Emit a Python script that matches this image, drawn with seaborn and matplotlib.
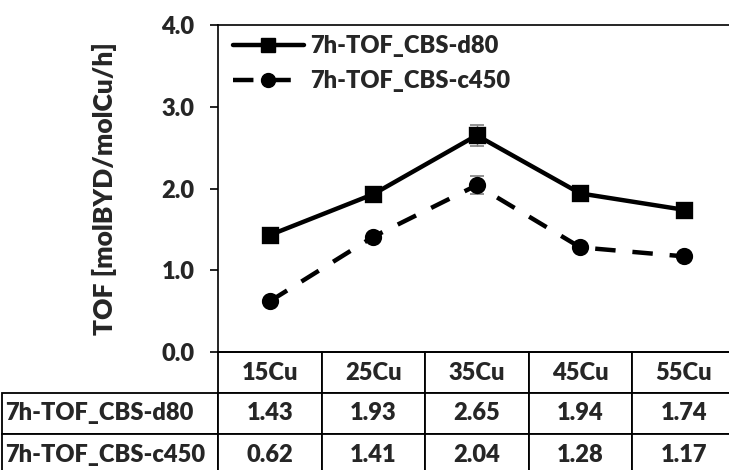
import matplotlib
matplotlib.use('Agg')
import matplotlib.pyplot as plt
from matplotlib.lines import Line2D
from matplotlib.table import Table
import seaborn as sns
import pandas as pd

## data
categories=["15Cu","25Cu","35Cu","45Cu","55Cu"]
series_names=["7h-TOF_CBS-d80","7h-TOF_CBS-c450"]
tof_d80=[1.43,1.93,2.65,1.94,1.74]
tof_c450=[0.62,1.41,2.04,1.28,1.17]
err_d80=[0,0,0.13,0,0]
err_c450=[0,0,0.11,0,0]
y_ticks=[0.0,1.0,2.0,3.0,4.0]

sns.set_style("white")
plt.rcParams['font.family']=['Lato','DejaVu Sans']
wt='heavy'
plt.rcParams['font.weight']=wt
fs=17

df=pd.DataFrame({"Sample":categories*2,
                 "TOF":tof_d80+tof_c450,
                 "Series":[series_names[0]]*5+[series_names[1]]*5})

fig=plt.figure(figsize=(7.29,4.70),dpi=100)
W,H=729.0,470.0
ax_l,ax_b,ax_w,ax_h=218,352,517.5,327
ax=fig.add_axes([ax_l/W,(H-ax_b)/H,ax_w/W,ax_h/H])

## error bars first so markers sit on top
ax.errorbar(range(len(categories)),tof_d80,yerr=err_d80,fmt='none',ecolor='#7f7f7f',
            elinewidth=1,capsize=5,capthick=1.2,zorder=1)
ax.errorbar(range(len(categories)),tof_c450,yerr=err_c450,fmt='none',ecolor='#7f7f7f',
            elinewidth=1,capsize=5,capthick=1.2,zorder=1)

sns.pointplot(data=df,x="Sample",y="TOF",hue="Series",hue_order=series_names,
              palette=["black","black"],markers=["s","o"],linestyles=["-","--"],
              errorbar=None,markersize=10,linewidth=3.2,legend=False,ax=ax)
dash=(4.6,3.8)
for l in ax.lines:
    if l.get_linestyle()=='--':
        l.set_dashes(dash)
    l.set_zorder(3)

ax.set_xlim(-0.5,4.5)
ax.set_ylim(0,4)
ax.set_yticks(y_ticks)
ax.set_yticklabels(["%.1f"%t for t in y_ticks],fontsize=fs,fontweight=wt)
ax.tick_params(axis='y',direction='out',length=6,width=1.2,pad=11,left=True,color='black')
ax.tick_params(axis='x',length=0,labelbottom=False)
ax.set_xlabel("")
ax.set_ylabel("TOF [molBYD/molCu/h]",fontsize=19,fontweight=wt)
ax.yaxis.set_label_coords(-0.195,0.5)
for s in ["left","top","bottom"]:
    ax.spines[s].set_visible(True)
    ax.spines[s].set_color("black")
    ax.spines[s].set_linewidth(1.2)
ax.spines["right"].set_visible(False)

handles=[Line2D([],[],color='black',lw=3.2,marker='s',ms=10,ls='-'),
         Line2D([],[],color='black',lw=3.2,marker='o',ms=10,dashes=dash)]
ax.legend(handles,series_names,loc='upper left',bbox_to_anchor=(-0.012,1.035),frameon=False,
          handlelength=3.0,handletextpad=0.25,labelspacing=0.55,
          prop={'weight':wt,'size':fs})

## data table under the axis (excel style), column 0 holds the row labels
col_w=1.0/len(categories)
lab_w=216/ax_w
row_h=41/ax_h
tb=Table(ax,bbox=[-lab_w,-3*row_h,1+lab_w,3*row_h])
rows=[[""]+categories,
      [series_names[0]]+["%.2f"%v for v in tof_d80],
      [series_names[1]]+["%.2f"%v for v in tof_c450]]
for r,row in enumerate(rows):
    for c,txt in enumerate(row):
        w=lab_w if c==0 else col_w
        loc='left' if c==0 else 'center'
        cell=tb.add_cell(r,c,width=w,height=row_h,text=txt,loc=loc,facecolor='white',edgecolor='black')
        cell.set_linewidth(1.3)
        cell.PAD=0.015
        cell.get_text().set_fontweight(wt)
        if r==0 and c==0:
            cell.visible_edges=''
tb.auto_set_font_size(False)
tb.set_fontsize(fs)
ax.add_table(tb)

plt.savefig("out.png",dpi=100)
